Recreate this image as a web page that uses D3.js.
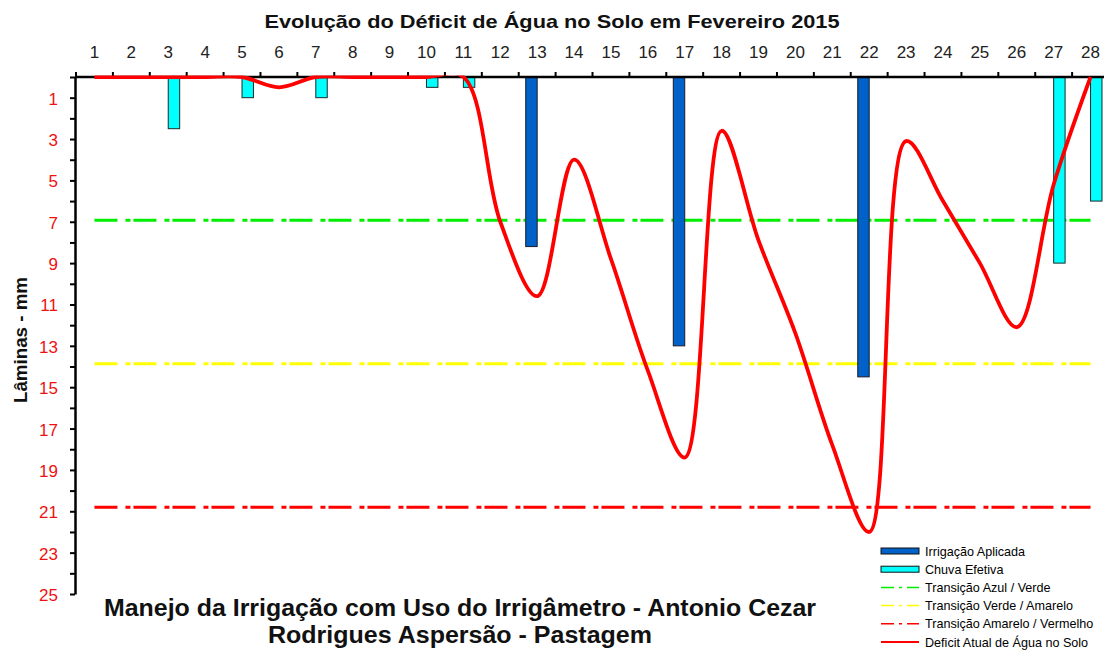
<!DOCTYPE html>
<html>
<head>
<meta charset="utf-8">
<script src="https://cdn.jsdelivr.net/npm/d3@7/dist/d3.min.js"></script>
<style>
  body { margin: 0; background: #fff; }
  svg { display: block; font-family: "Liberation Sans", Arial, sans-serif; }
</style>
</head>
<body>
<svg id="chart" width="1104" height="652"></svg>
<script>
// --- data (mm, positive = deficit downward) ---
const dias = [1, 2, 3, 4, 5, 6, 7, 8, 9, 10, 11, 12, 13, 14, 15, 16, 17, 18, 19, 20, 21, 22, 23, 24, 25, 26, 27, 28];
const irrigacao = [0, 0, 0, 0, 0, 0, 0, 0, 0, 0, 0, 0, 8.2, 0, 0, 0, 13.0, 0, 0, 0, 0, 14.5, 0, 0, 0, 0, 0, 0];
const chuva = [0, 0, 2.5, 0, 1.0, 0, 1.0, 0, 0, 0.5, 0.5, 0, 0, 0, 0, 0, 0, 0, 0, 0, 0, 0, 0, 0, 0, 0, 9.0, 6.0];
const deficit = [0, 0, 0, 0, 0, 0.5, 0, 0, 0, 0, 0, 7.0, 10.6, 4.0, 8.8, 14.2, 18.4, 2.6, 7.9, 12.4, 17.8, 22.0, 3.1, 6.0, 9.0, 12.1, 5.2, 0];
const limites = [6.93, 13.87, 20.8];
const limiteNomes = ["Transição Azul / Verde", "Transição Verde / Amarelo", "Transição Amarelo / Vermelho"];
const yLabels = [1, 3, 5, 7, 9, 11, 13, 15, 17, 19, 21, 23, 25];

const titulo = "Evolução do Déficit de Água no Solo em Fevereiro 2015";
const subtitulo = ["Manejo da Irrigação com Uso do Irrigâmetro - Antonio Cezar", "Rodrigues Aspersão - Pastagem"];

// --- layout ---
const svg = d3.select("#chart");
const pLeft = 76, pTop = 77, pRight = 1109, pBottom = 594;
const corLimite = ["#00ee00", "#ffff00", "#ff0000"];
const dashDot = "23,8,5,3";

const x = d3.scaleBand().domain(dias).range([pLeft, pRight]).paddingInner(0).paddingOuter(0);
const y = d3.scaleLinear().domain([0, 25]).range([pTop, pBottom]);
const barW = x.bandwidth() * 0.31;
const cx = d => x(d) + x.bandwidth() / 2;

// squeeze text horizontally to a target width
function fitWidth(sel, w) {
  sel.attr("textLength", w).attr("lengthAdjust", "spacingAndGlyphs");
}

// title
svg.append("text")
  .attr("x", 552).attr("y", 28)
  .attr("text-anchor", "middle")
  .attr("font-size", 19).attr("font-weight", "bold").attr("fill", "#111")
  .text(titulo)
  .call(fitWidth, 575);

// reference lines
const limG = svg.append("g");
limites.forEach((v, i) => {
  limG.append("line")
    .attr("x1", cx(dias[0])).attr("x2", cx(dias[dias.length - 1]))
    .attr("y1", y(v)).attr("y2", y(v))
    .attr("stroke", corLimite[i]).attr("stroke-width", 3)
    .attr("stroke-dasharray", dashDot);
});

// bars
const barG = svg.append("g");
barG.selectAll(".irr")
  .data(dias.filter((d, i) => irrigacao[i] > 0))
  .enter().append("rect")
  .attr("class", "irr")
  .attr("x", d => cx(d) - barW)
  .attr("y", y(0))
  .attr("width", barW)
  .attr("height", d => y(irrigacao[d - 1]) - y(0))
  .attr("fill", "#0062c8").attr("stroke", "#1a1a2a").attr("stroke-width", 1);

barG.selectAll(".chuva")
  .data(dias.filter((d, i) => chuva[i] > 0))
  .enter().append("rect")
  .attr("class", "chuva")
  .attr("x", d => cx(d))
  .attr("y", y(0))
  .attr("width", barW)
  .attr("height", d => y(chuva[d - 1]) - y(0))
  .attr("fill", "#00ffff").attr("stroke", "#1a2a2a").attr("stroke-width", 1);

// x axis (top)
const xAxis = svg.append("g").attr("transform", `translate(0,${pTop})`);
xAxis.append("line")
  .attr("x1", pLeft - 1).attr("x2", pRight).attr("y1", 0).attr("y2", 0)
  .attr("stroke", "#000").attr("stroke-width", 2.5);
xAxis.selectAll(".tk")
  .data(dias.concat([null]))
  .enter().append("line")
  .attr("x1", (d, i) => pLeft + i * x.bandwidth())
  .attr("x2", (d, i) => pLeft + i * x.bandwidth())
  .attr("y1", 0).attr("y2", -5)
  .attr("stroke", "#000").attr("stroke-width", 2);
xAxis.selectAll(".lb")
  .data(dias)
  .enter().append("text")
  .attr("x", d => cx(d))
  .attr("y", -19)
  .attr("text-anchor", "middle")
  .attr("font-size", 17).attr("fill", "#222")
  .text(d => d);

// y axis (left)
const yAxis = svg.append("g").attr("transform", `translate(${pLeft - 1},0)`)
  .call(d3.axisLeft(y)
    .tickValues(d3.range(0, 26))
    .tickSize(5)
    .tickSizeOuter(0)
    .tickFormat(d => yLabels.includes(d) ? d : ""));
yAxis.select(".domain").attr("stroke", "#000").attr("stroke-width", 2.5);
yAxis.selectAll(".tick line").attr("stroke", "#000").attr("stroke-width", 2);
yAxis.selectAll(".tick text")
  .attr("font-size", 17).attr("fill", "#ee1111")
  .attr("font-family", "Liberation Sans, Arial, sans-serif")
  .attr("x", -17).attr("dy", "0.38em");

svg.append("text")
  .attr("transform", "translate(27,340) rotate(-90)")
  .attr("text-anchor", "middle")
  .attr("font-size", 18).attr("font-weight", "bold").attr("fill", "#111")
  .text("Lâminas - mm")
  .call(fitWidth, 126);

// deficit curve, clipped to plot area
svg.append("clipPath").attr("id", "plotClip")
  .append("rect").attr("x", pLeft).attr("y", pTop - 1.5)
  .attr("width", pRight - pLeft).attr("height", pBottom - pTop + 2);

const linha = d3.line()
  .x((d, i) => cx(dias[i]))
  .y(d => y(d))
  .curve(d3.curveCatmullRom.alpha(0.5));

svg.append("path")
  .datum(deficit)
  .attr("clip-path", "url(#plotClip)")
  .attr("d", linha)
  .attr("fill", "none").attr("stroke", "#ff0000").attr("stroke-width", 3.8);

// bottom caption
subtitulo.forEach((t, i) => {
  svg.append("text")
    .attr("x", 460).attr("y", 616 + i * 27)
    .attr("text-anchor", "middle")
    .attr("font-size", 23).attr("font-weight", "bold").attr("fill", "#111")
    .text(t)
    .call(fitWidth, i === 0 ? 712 : 384);
});

// legend
const legItems = [
  { nome: "Irrigação Aplicada", tipo: "bar", cor: "#0062c8" },
  { nome: "Chuva Efetiva", tipo: "bar", cor: "#00ffff" },
  { nome: limiteNomes[0], tipo: "dash", cor: corLimite[0] },
  { nome: limiteNomes[1], tipo: "dash", cor: corLimite[1] },
  { nome: limiteNomes[2], tipo: "dash", cor: corLimite[2] },
  { nome: "Deficit Atual de Água no Solo", tipo: "line", cor: "#ff0000" }
];
const leg = svg.append("g");
legItems.forEach((it, i) => {
  const yy = 551 + i * 18.2;
  if (it.tipo === "bar") {
    leg.append("rect").attr("x", 881).attr("y", yy - 3).attr("width", 38).attr("height", 6)
      .attr("fill", it.cor).attr("stroke", "#111").attr("stroke-width", 1);
  } else {
    leg.append("line").attr("x1", 881).attr("x2", 919).attr("y1", yy).attr("y2", yy)
      .attr("stroke", it.cor).attr("stroke-width", it.tipo === "line" ? 2 : 1.5)
      .attr("stroke-dasharray", it.tipo === "dash" ? "13,5,3,5,13" : null);
  }
  leg.append("text")
    .attr("x", 925).attr("y", yy + 4.5)
    .attr("font-size", 12.6).attr("fill", "#000")
    .text(it.nome);
});
</script>
</body>
</html>
